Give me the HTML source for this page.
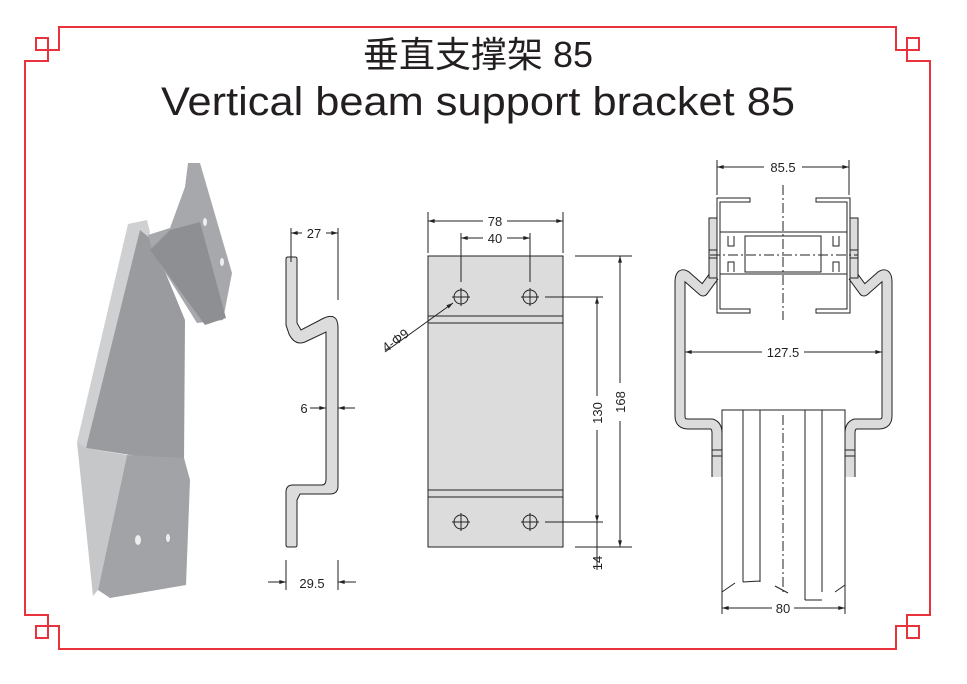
<!DOCTYPE html>
<html><head><meta charset="utf-8"><style>
html,body{margin:0;padding:0;background:#fff;}
svg{display:block;}
text{font-family:"Liberation Sans","Noto Sans CJK SC",sans-serif;fill:#231f20;}
.l{stroke:#222;stroke-width:1;fill:none;}
.g{fill:#dcdcdd;stroke:#222;stroke-width:1;}
.dim{font-size:13px;}
</style></head><body>
<svg width="967" height="684" viewBox="0 0 967 684" xmlns="http://www.w3.org/2000/svg">
<defs>
<marker id="a" viewBox="0 0 10 6" refX="10" refY="3" markerWidth="8" markerHeight="4" orient="auto-start-reverse"><path d="M0,0 L10,3 L0,6z" fill="#222"/></marker>
</defs>
<g stroke="#e8323c" stroke-width="2" fill="none">
<path d="M25,615 V61 H48 V50 H59 V27 H896 V50 H907 V61 H930 V615 H907 V626 H896 V649 H59 V626 H48 V615 Z"/>
<rect x="36" y="38" width="12" height="12"/>
<rect x="907" y="38" width="12" height="12"/>
<rect x="36" y="626" width="12" height="12"/>
<rect x="907" y="626" width="12" height="12"/>
</g>
<text x="478" y="67" font-size="36" text-anchor="middle">垂直支撑架 85</text>
<text x="478" y="115" font-size="40" text-anchor="middle" textLength="634" lengthAdjust="spacingAndGlyphs">Vertical beam support bracket 85</text>

<!-- photo -->
<polygon points="128,224 147,220 150,232 92,448 84,448 77,442" fill="#cfd0d2"/>
<polygon points="140,230 152,240 185,320 184,462 130,455 86,448" fill="#9a9b9e"/>
<polygon points="77,442 86,448 127,455 98,590 93,596" fill="#c6c7c9"/>
<polygon points="127,455 184,458 190,480 186,585 110,598 98,590" fill="#a2a3a6"/>
<polygon points="185,187 188,163 200,163 232,273 223,320 197,323 153,253 148,235 170,228" fill="#a7a8ab"/>
<polygon points="150,250 170,230 200,222 226,318 205,325" fill="#8e8f92"/>
<g fill="#eee"><ellipse cx="138" cy="540" rx="3" ry="5"/><ellipse cx="168" cy="538" rx="2" ry="4"/><ellipse cx="205" cy="222" rx="2" ry="4"/><ellipse cx="222" cy="262" rx="2" ry="4"/></g>

<!-- side profile -->
<path class="g" d="M286,259 q0,-2 2,-2 h7 q2,0 2,2 V323 L301,330 L324,318 q14,-6 14,10 V486 q0,8 -8,8 H300 L297,500 V545 q0,2 -2,2 h-7 q-2,0 -2,-2 V492 q0,-7 7,-7 H322 q4,0 4,-6 V332 L305,342 q-10,4 -16,-8 L286,325 Z"/>
<g class="l">
<path d="M291,228 V262 M338,228 V300 M286,560 V590 M338,560 V590"/>
<path d="M291,233 H338" marker-start="url(#a)" marker-end="url(#a)"/>
<path d="M310,408 H326" marker-end="url(#a)"/><path d="M355,408 H338" marker-end="url(#a)"/>
<path d="M268,582 H286" marker-end="url(#a)"/><path d="M356,582 H338" marker-end="url(#a)"/>
</g>
<rect x="302" y="226" width="24" height="14" fill="#fff"/>
<text class="dim" x="314" y="238" text-anchor="middle">27</text>
<text class="dim" x="304" y="413" text-anchor="middle">6</text>
<text class="dim" x="312" y="588" text-anchor="middle">29.5</text>

<!-- front plate -->
<rect class="g" x="428" y="256" width="135" height="291"/>
<path class="l" d="M428,316 H563 M428,323 H563 M428,490 H563 M428,497 H563"/>
<g class="l">
<circle cx="461" cy="297" r="7"/><circle cx="530" cy="297" r="7"/><circle cx="461" cy="522" r="7"/><circle cx="530" cy="522" r="7"/>
<path d="M452,297 H470 M461,288 V306 M521,297 H539 M530,288 V306 M452,522 H470 M461,513 V531 M521,522 H539 M530,513 V531"/>
<path d="M428,212 V253 M563,212 V253 M461,233 V282 M530,233 V282"/>
<path d="M428,221 H563" marker-start="url(#a)" marker-end="url(#a)"/>
<path d="M461,238 H530" marker-start="url(#a)" marker-end="url(#a)"/>
<path d="M575,256 H632 M545,297 H603 M545,522 H603 M575,547 H632"/>
<path d="M620,256 V547" marker-start="url(#a)" marker-end="url(#a)"/>
<path d="M597,297 V522" marker-start="url(#a)" marker-end="url(#a)"/>
<path d="M597,522 V570"/>
<path d="M385,352 L453,303" marker-end="url(#a)"/>
</g>
<rect x="483" y="213" width="24" height="15" fill="#fff"/>
<rect x="483" y="230" width="24" height="15" fill="#fff"/>
<text class="dim" x="495" y="226" text-anchor="middle">78</text>
<text class="dim" x="495" y="243" text-anchor="middle">40</text>
<rect x="590" y="396" width="14" height="34" fill="#fff"/>
<rect x="613" y="383" width="14" height="38" fill="#fff"/>
<text class="dim" transform="translate(602,413) rotate(-90)" text-anchor="middle">130</text>
<text class="dim" transform="translate(625,402) rotate(-90)" text-anchor="middle">168</text>
<text class="dim" transform="translate(602,563) rotate(-90)" text-anchor="middle">14</text>
<text class="dim" transform="translate(398,344) rotate(-36)" text-anchor="middle">4-Φ9</text>

<!-- right section -->
<g>
<path class="l" d="M722,595 V410 H845 V592"/>
<path class="l" d="M743,410 V582 M760,410 V582 M805,410 V600 M822,410 V592 M722,592 L735,583 M743,582 L760,581 M775,586 L788,593 M805,600 L822,600 M835,592 L845,585"/>
<path class="l" d="M783,415 V595" stroke-dasharray="10,3,2,3"/>
</g>
<g stroke-linejoin="round" stroke-linecap="butt" fill="none">
<path d="M714,276 L703,291 L686,276 Q680,272 680,282 V416 Q680,424 688,424 H712 Q717,426 717,433 V477" stroke="#222" stroke-width="11"/>
<path d="M714,276 L703,291 L686,276 Q680,272 680,282 V416 Q680,424 688,424 H712 Q717,426 717,433 V477" stroke="#dcdcdd" stroke-width="9"/>
<path d="M853,276 L864,291 L881,276 Q887,272 887,282 V416 Q887,424 879,424 H855 Q850,426 850,433 V477" stroke="#222" stroke-width="11"/>
<path d="M853,276 L864,291 L881,276 Q887,272 887,282 V416 Q887,424 879,424 H855 Q850,426 850,433 V477" stroke="#dcdcdd" stroke-width="9"/>
</g>
<rect class="g" x="709" y="218" width="8" height="60"/>
<rect class="g" x="850" y="218" width="8" height="60"/>
<path class="l" d="M712,450 H722 M712,456 H722 M845,450 H855 M845,456 H855 M709,250 H717 M709,258 H717 M850,250 H858 M850,258 H858"/>
<g class="l">
<path d="M750,198 H717 V313 H750 V309 H720 V202 H750 Z"/>
<path d="M816,198 H850 V313 H816 V309 H847 V202 H816 Z"/>
<path d="M720,232 H847 M720,274 H847"/>
<rect x="745" y="236" width="76" height="36"/>
<path d="M728,236 V246 H734 V236 M728,272 V262 H734 V272 M833,236 V246 H839 V236 M833,272 V262 H839 V272"/>
<path d="M710,255 H858 M783,185 V320" stroke-dasharray="10,3,2,3"/>
<path d="M717,160 V195 M849,160 V195 M722,590 V614 M845,590 V614"/>
<path d="M717,167 H849" marker-start="url(#a)" marker-end="url(#a)"/>
<path d="M685,352 H882" marker-start="url(#a)" marker-end="url(#a)"/>
<path d="M722,608 H845" marker-start="url(#a)" marker-end="url(#a)"/>
</g>
<rect x="764" y="159" width="38" height="14" fill="#fff"/>
<rect x="762" y="344" width="42" height="14" fill="#fff"/>
<rect x="772" y="600" width="22" height="14" fill="#fff"/>
<text class="dim" x="783" y="172" text-anchor="middle">85.5</text>
<text class="dim" x="783" y="357" text-anchor="middle">127.5</text>
<text class="dim" x="783" y="613" text-anchor="middle">80</text>
</svg>
</body></html>
